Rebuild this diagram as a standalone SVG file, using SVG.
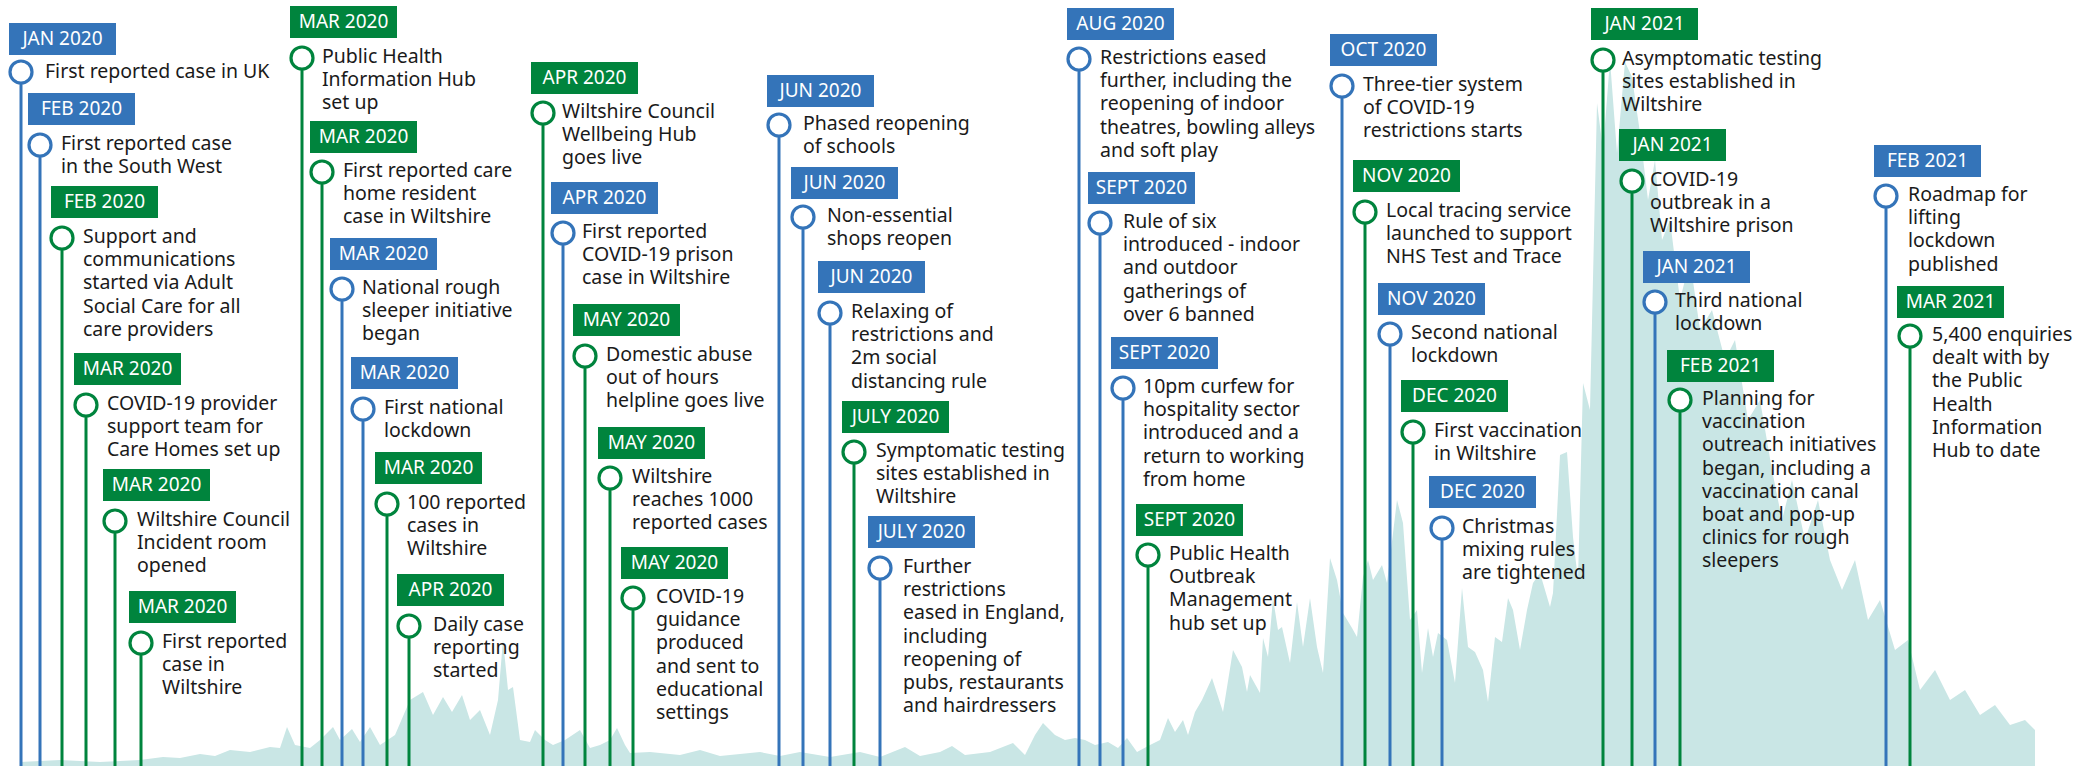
<svg xmlns="http://www.w3.org/2000/svg" width="2083" height="766" viewBox="0 0 2083 766">
<style>
.bg{fill:#ffffff}
.area{fill:#c9e6e5}
.stem{stroke-width:3;fill:none}
.stem.b{stroke:#3474b9}
.stem.g{stroke:#00843d}
.box.b{fill:#3474b9}
.box.g{fill:#00843d}
.dot{fill:#ffffff;stroke-width:3.2}
.dot.b{stroke:#3474b9}
.dot.g{stroke:#00843d}
.lbl{font-family:"Noto Sans","Open Sans","DejaVu Sans",sans-serif;font-size:19px;fill:#ffffff;text-anchor:middle}
.txt{font-family:"Noto Sans","Open Sans","DejaVu Sans",sans-serif;font-size:19.5px;fill:#1a1a1a}
</style>
<rect class="bg" x="0" y="0" width="2083" height="766"/>
<path class="area" d="M20,766 L20,762 L60,760 L100,762 L140,760 L163,757 L180,758 L200,754 L215,756 L230,750 L250,752 L270,747 L280,748 L287,727 L295,745 L310,748 L320,740 L333,727 L340,740 L352,729 L360,742 L370,727 L380,745 L395,735 L410,700 L423,692 L433,715 L443,697 L452,712 L462,695 L470,720 L480,710 L490,735 L498,700 L503,640 L508,690 L513,687 L520,740 L530,742 L535,730 L545,740 L553,745 L565,740 L580,730 L590,748 L600,745 L610,740 L617,728 L625,745 L630,753 L650,752 L680,755 L700,750 L720,756 L760,752 L780,756 L800,752 L830,757 L860,752 L880,757 L905,747 L920,756 L940,752 L952,746 L965,755 L990,752 L1013,743 L1025,755 L1035,735 L1043,723 L1055,735 L1065,740 L1075,738 L1085,740 L1095,745 L1108,742 L1118,748 L1127,738 L1137,752 L1150,745 L1160,740 L1168,718 L1175,732 L1183,720 L1188,735 L1195,712 L1202,700 L1212,678 L1223,712 L1233,650 L1242,667 L1247,692 L1250,675 L1260,693 L1263,638 L1268,657 L1273,598 L1278,630 L1282,627 L1290,663 L1297,602 L1303,647 L1310,598 L1317,647 L1323,673 L1330,558 L1337,580 L1343,613 L1352,628 L1357,637 L1363,577 L1368,560 L1373,580 L1382,565 L1387,583 L1397,500 L1403,523 L1410,620 L1417,610 L1422,673 L1428,628 L1433,657 L1438,633 L1447,640 L1455,683 L1462,588 L1468,647 L1475,652 L1483,670 L1488,702 L1495,637 L1502,642 L1508,598 L1513,610 L1520,650 L1527,610 L1533,583 L1540,573 L1550,607 L1553,593 L1560,455 L1567,452 L1573,537 L1578,580 L1583,383 L1590,410 L1597,103 L1603,150 L1610,60 L1617,153 L1625,62 L1632,77 L1640,133 L1648,200 L1655,160 L1662,240 L1670,220 L1680,300 L1690,260 L1700,330 L1712,310 L1725,360 L1735,340 L1748,420 L1760,400 L1772,470 L1782,520 L1792,480 L1805,540 L1818,500 L1830,560 L1842,590 L1855,560 L1868,620 L1880,600 L1895,650 L1908,640 L1920,690 L1935,670 L1950,700 L1965,690 L1980,715 L1995,705 L2010,725 L2025,720 L2035,730 L2035,766 Z"/>
<g id="connectors">
<line class="stem b" x1="21" y1="83" x2="21" y2="766"/>
<line class="stem b" x1="40" y1="156" x2="40" y2="766"/>
<line class="stem g" x1="62" y1="249" x2="62" y2="766"/>
<line class="stem g" x1="86" y1="416" x2="86" y2="766"/>
<line class="stem g" x1="115" y1="532" x2="115" y2="766"/>
<line class="stem g" x1="141" y1="654" x2="141" y2="766"/>
<line class="stem g" x1="302" y1="69" x2="302" y2="766"/>
<line class="stem g" x1="322" y1="183" x2="322" y2="766"/>
<line class="stem b" x1="342" y1="300" x2="342" y2="766"/>
<line class="stem b" x1="363" y1="420" x2="363" y2="766"/>
<line class="stem g" x1="387" y1="515" x2="387" y2="766"/>
<line class="stem g" x1="409" y1="637" x2="409" y2="766"/>
<line class="stem g" x1="543" y1="124" x2="543" y2="766"/>
<line class="stem b" x1="563" y1="244" x2="563" y2="766"/>
<line class="stem g" x1="585" y1="367" x2="585" y2="766"/>
<line class="stem g" x1="610" y1="489" x2="610" y2="766"/>
<line class="stem g" x1="633" y1="609" x2="633" y2="766"/>
<line class="stem b" x1="779" y1="136" x2="779" y2="766"/>
<line class="stem b" x1="803" y1="228" x2="803" y2="766"/>
<line class="stem b" x1="830" y1="324" x2="830" y2="766"/>
<line class="stem g" x1="854" y1="463" x2="854" y2="766"/>
<line class="stem b" x1="880" y1="579" x2="880" y2="766"/>
<line class="stem b" x1="1079" y1="70" x2="1079" y2="766"/>
<line class="stem b" x1="1100" y1="234" x2="1100" y2="766"/>
<line class="stem b" x1="1123" y1="399" x2="1123" y2="766"/>
<line class="stem g" x1="1148" y1="566" x2="1148" y2="766"/>
<line class="stem b" x1="1342" y1="97" x2="1342" y2="766"/>
<line class="stem g" x1="1365" y1="223" x2="1365" y2="766"/>
<line class="stem b" x1="1390" y1="345" x2="1390" y2="766"/>
<line class="stem g" x1="1413" y1="443" x2="1413" y2="766"/>
<line class="stem b" x1="1442" y1="539" x2="1442" y2="766"/>
<line class="stem g" x1="1603" y1="71" x2="1603" y2="766"/>
<line class="stem g" x1="1632" y1="192" x2="1632" y2="766"/>
<line class="stem b" x1="1655" y1="313" x2="1655" y2="766"/>
<line class="stem g" x1="1680" y1="411" x2="1680" y2="766"/>
<line class="stem b" x1="1886" y1="207" x2="1886" y2="766"/>
<line class="stem g" x1="1910" y1="347" x2="1910" y2="766"/>
</g>
<g id="n1"><rect class="box b" x="9" y="23" width="107" height="32"/><text class="lbl" x="62.5" y="45">JAN 2020</text><circle class="dot b" cx="21" cy="72" r="11"/><text class="txt" x="45" y="78">First reported case in UK</text></g>
<g id="n2"><rect class="box b" x="28" y="93" width="107" height="32"/><text class="lbl" x="81.5" y="115">FEB 2020</text><circle class="dot b" cx="40" cy="145" r="11"/><text class="txt" x="61" y="150"><tspan x="61">First reported case</tspan><tspan x="61" dy="23.2">in the South West</tspan></text></g>
<g id="n3"><rect class="box g" x="51" y="186" width="107" height="32"/><text class="lbl" x="104.5" y="208">FEB 2020</text><circle class="dot g" cx="62" cy="238" r="11"/><text class="txt" x="83" y="243"><tspan x="83">Support and</tspan><tspan x="83" dy="23.2">communications</tspan><tspan x="83" dy="23.2">started via Adult</tspan><tspan x="83" dy="23.2">Social Care for all</tspan><tspan x="83" dy="23.2">care providers</tspan></text></g>
<g id="n4"><rect class="box g" x="74" y="353" width="107" height="32"/><text class="lbl" x="127.5" y="375">MAR 2020</text><circle class="dot g" cx="86" cy="405" r="11"/><text class="txt" x="107" y="410"><tspan x="107">COVID-19 provider</tspan><tspan x="107" dy="23.2">support team for</tspan><tspan x="107" dy="23.2">Care Homes set up</tspan></text></g>
<g id="n5"><rect class="box g" x="103" y="469" width="107" height="32"/><text class="lbl" x="156.5" y="491">MAR 2020</text><circle class="dot g" cx="115" cy="521" r="11"/><text class="txt" x="137" y="526"><tspan x="137">Wiltshire Council</tspan><tspan x="137" dy="23.2">Incident room</tspan><tspan x="137" dy="23.2">opened</tspan></text></g>
<g id="n6"><rect class="box g" x="129" y="591" width="107" height="32"/><text class="lbl" x="182.5" y="613">MAR 2020</text><circle class="dot g" cx="141" cy="643" r="11"/><text class="txt" x="162" y="648"><tspan x="162">First reported</tspan><tspan x="162" dy="23.2">case in</tspan><tspan x="162" dy="23.2">Wiltshire</tspan></text></g>
<g id="n7"><rect class="box g" x="290" y="6" width="107" height="32"/><text class="lbl" x="343.5" y="28">MAR 2020</text><circle class="dot g" cx="302" cy="58" r="11"/><text class="txt" x="322" y="63"><tspan x="322">Public Health</tspan><tspan x="322" dy="23.2">Information Hub</tspan><tspan x="322" dy="23.2">set up</tspan></text></g>
<g id="n8"><rect class="box g" x="310" y="121" width="107" height="32"/><text class="lbl" x="363.5" y="143">MAR 2020</text><circle class="dot g" cx="322" cy="172" r="11"/><text class="txt" x="343" y="177"><tspan x="343">First reported care</tspan><tspan x="343" dy="23.2">home resident</tspan><tspan x="343" dy="23.2">case in Wiltshire</tspan></text></g>
<g id="n9"><rect class="box b" x="330" y="238" width="107" height="32"/><text class="lbl" x="383.5" y="260">MAR 2020</text><circle class="dot b" cx="342" cy="289" r="11"/><text class="txt" x="362" y="294"><tspan x="362">National rough</tspan><tspan x="362" dy="23.2">sleeper initiative</tspan><tspan x="362" dy="23.2">began</tspan></text></g>
<g id="n10"><rect class="box b" x="351" y="357" width="107" height="32"/><text class="lbl" x="404.5" y="379">MAR 2020</text><circle class="dot b" cx="363" cy="409" r="11"/><text class="txt" x="384" y="414"><tspan x="384">First national</tspan><tspan x="384" dy="23.2">lockdown</tspan></text></g>
<g id="n11"><rect class="box g" x="375" y="452" width="107" height="32"/><text class="lbl" x="428.5" y="474">MAR 2020</text><circle class="dot g" cx="387" cy="504" r="11"/><text class="txt" x="407" y="509"><tspan x="407">100 reported</tspan><tspan x="407" dy="23.2">cases in</tspan><tspan x="407" dy="23.2">Wiltshire</tspan></text></g>
<g id="n12"><rect class="box g" x="397" y="574" width="107" height="32"/><text class="lbl" x="450.5" y="596">APR 2020</text><circle class="dot g" cx="409" cy="626" r="11"/><text class="txt" x="433" y="631"><tspan x="433">Daily case</tspan><tspan x="433" dy="23.2">reporting</tspan><tspan x="433" dy="23.2">started</tspan></text></g>
<g id="n13"><rect class="box g" x="531" y="62" width="107" height="32"/><text class="lbl" x="584.5" y="84">APR 2020</text><circle class="dot g" cx="543" cy="113" r="11"/><text class="txt" x="562" y="118"><tspan x="562">Wiltshire Council</tspan><tspan x="562" dy="23.2">Wellbeing Hub</tspan><tspan x="562" dy="23.2">goes live</tspan></text></g>
<g id="n14"><rect class="box b" x="551" y="182" width="107" height="32"/><text class="lbl" x="604.5" y="204">APR 2020</text><circle class="dot b" cx="563" cy="233" r="11"/><text class="txt" x="582" y="238"><tspan x="582">First reported</tspan><tspan x="582" dy="23.2">COVID-19 prison</tspan><tspan x="582" dy="23.2">case in Wiltshire</tspan></text></g>
<g id="n15"><rect class="box g" x="573" y="304" width="107" height="32"/><text class="lbl" x="626.5" y="326">MAY 2020</text><circle class="dot g" cx="585" cy="356" r="11"/><text class="txt" x="606" y="361"><tspan x="606">Domestic abuse</tspan><tspan x="606" dy="23.2">out of hours</tspan><tspan x="606" dy="23.2">helpline goes live</tspan></text></g>
<g id="n16"><rect class="box g" x="598" y="427" width="107" height="32"/><text class="lbl" x="651.5" y="449">MAY 2020</text><circle class="dot g" cx="610" cy="478" r="11"/><text class="txt" x="632" y="483"><tspan x="632">Wiltshire</tspan><tspan x="632" dy="23.2">reaches 1000</tspan><tspan x="632" dy="23.2">reported cases</tspan></text></g>
<g id="n17"><rect class="box g" x="621" y="547" width="107" height="32"/><text class="lbl" x="674.5" y="569">MAY 2020</text><circle class="dot g" cx="633" cy="598" r="11"/><text class="txt" x="656" y="603"><tspan x="656">COVID-19</tspan><tspan x="656" dy="23.2">guidance</tspan><tspan x="656" dy="23.2">produced</tspan><tspan x="656" dy="23.2">and sent to</tspan><tspan x="656" dy="23.2">educational</tspan><tspan x="656" dy="23.2">settings</tspan></text></g>
<g id="n18"><rect class="box b" x="767" y="75" width="107" height="32"/><text class="lbl" x="820.5" y="97">JUN 2020</text><circle class="dot b" cx="779" cy="125" r="11"/><text class="txt" x="803" y="130"><tspan x="803">Phased reopening</tspan><tspan x="803" dy="23.2">of schools</tspan></text></g>
<g id="n19"><rect class="box b" x="791" y="167" width="107" height="32"/><text class="lbl" x="844.5" y="189">JUN 2020</text><circle class="dot b" cx="803" cy="217" r="11"/><text class="txt" x="827" y="222"><tspan x="827">Non-essential</tspan><tspan x="827" dy="23.2">shops reopen</tspan></text></g>
<g id="n20"><rect class="box b" x="818" y="261" width="107" height="32"/><text class="lbl" x="871.5" y="283">JUN 2020</text><circle class="dot b" cx="830" cy="313" r="11"/><text class="txt" x="851" y="318"><tspan x="851">Relaxing of</tspan><tspan x="851" dy="23.2">restrictions and</tspan><tspan x="851" dy="23.2">2m social</tspan><tspan x="851" dy="23.2">distancing rule</tspan></text></g>
<g id="n21"><rect class="box g" x="842" y="401" width="107" height="32"/><text class="lbl" x="895.5" y="423">JULY 2020</text><circle class="dot g" cx="854" cy="452" r="11"/><text class="txt" x="876" y="457"><tspan x="876">Symptomatic testing</tspan><tspan x="876" dy="23.2">sites established in</tspan><tspan x="876" dy="23.2">Wiltshire</tspan></text></g>
<g id="n22"><rect class="box b" x="868" y="516" width="107" height="32"/><text class="lbl" x="921.5" y="538">JULY 2020</text><circle class="dot b" cx="880" cy="568" r="11"/><text class="txt" x="903" y="573"><tspan x="903">Further</tspan><tspan x="903" dy="23.2">restrictions</tspan><tspan x="903" dy="23.2">eased in England,</tspan><tspan x="903" dy="23.2">including</tspan><tspan x="903" dy="23.2">reopening of</tspan><tspan x="903" dy="23.2">pubs, restaurants</tspan><tspan x="903" dy="23.2">and hairdressers</tspan></text></g>
<g id="n23"><rect class="box b" x="1067" y="8" width="107" height="32"/><text class="lbl" x="1120.5" y="30">AUG 2020</text><circle class="dot b" cx="1079" cy="59" r="11"/><text class="txt" x="1100" y="64"><tspan x="1100">Restrictions eased</tspan><tspan x="1100" dy="23.2">further, including the</tspan><tspan x="1100" dy="23.2">reopening of indoor</tspan><tspan x="1100" dy="23.2">theatres, bowling alleys</tspan><tspan x="1100" dy="23.2">and soft play</tspan></text></g>
<g id="n24"><rect class="box b" x="1088" y="172" width="107" height="32"/><text class="lbl" x="1141.5" y="194">SEPT 2020</text><circle class="dot b" cx="1100" cy="223" r="11"/><text class="txt" x="1123" y="228"><tspan x="1123">Rule of six</tspan><tspan x="1123" dy="23.2">introduced - indoor</tspan><tspan x="1123" dy="23.2">and outdoor</tspan><tspan x="1123" dy="23.2">gatherings of</tspan><tspan x="1123" dy="23.2">over 6 banned</tspan></text></g>
<g id="n25"><rect class="box b" x="1111" y="337" width="107" height="32"/><text class="lbl" x="1164.5" y="359">SEPT 2020</text><circle class="dot b" cx="1123" cy="388" r="11"/><text class="txt" x="1143" y="393"><tspan x="1143">10pm curfew for</tspan><tspan x="1143" dy="23.2">hospitality sector</tspan><tspan x="1143" dy="23.2">introduced and a</tspan><tspan x="1143" dy="23.2">return to working</tspan><tspan x="1143" dy="23.2">from home</tspan></text></g>
<g id="n26"><rect class="box g" x="1136" y="504" width="107" height="32"/><text class="lbl" x="1189.5" y="526">SEPT 2020</text><circle class="dot g" cx="1148" cy="555" r="11"/><text class="txt" x="1169" y="560"><tspan x="1169">Public Health</tspan><tspan x="1169" dy="23.2">Outbreak</tspan><tspan x="1169" dy="23.2">Management</tspan><tspan x="1169" dy="23.2">hub set up</tspan></text></g>
<g id="n27"><rect class="box b" x="1330" y="34" width="107" height="32"/><text class="lbl" x="1383.5" y="56">OCT 2020</text><circle class="dot b" cx="1342" cy="86" r="11"/><text class="txt" x="1363" y="91"><tspan x="1363">Three-tier system</tspan><tspan x="1363" dy="23.2">of COVID-19</tspan><tspan x="1363" dy="23.2">restrictions starts</tspan></text></g>
<g id="n28"><rect class="box g" x="1353" y="160" width="107" height="32"/><text class="lbl" x="1406.5" y="182">NOV 2020</text><circle class="dot g" cx="1365" cy="212" r="11"/><text class="txt" x="1386" y="217"><tspan x="1386">Local tracing service</tspan><tspan x="1386" dy="23.2">launched to support</tspan><tspan x="1386" dy="23.2">NHS Test and Trace</tspan></text></g>
<g id="n29"><rect class="box b" x="1378" y="283" width="107" height="32"/><text class="lbl" x="1431.5" y="305">NOV 2020</text><circle class="dot b" cx="1390" cy="334" r="11"/><text class="txt" x="1411" y="339"><tspan x="1411">Second national</tspan><tspan x="1411" dy="23.2">lockdown</tspan></text></g>
<g id="n30"><rect class="box g" x="1401" y="380" width="107" height="32"/><text class="lbl" x="1454.5" y="402">DEC 2020</text><circle class="dot g" cx="1413" cy="432" r="11"/><text class="txt" x="1434" y="437"><tspan x="1434">First vaccination</tspan><tspan x="1434" dy="23.2">in Wiltshire</tspan></text></g>
<g id="n31"><rect class="box b" x="1429" y="476" width="107" height="32"/><text class="lbl" x="1482.5" y="498">DEC 2020</text><circle class="dot b" cx="1442" cy="528" r="11"/><text class="txt" x="1462" y="533"><tspan x="1462">Christmas</tspan><tspan x="1462" dy="23.2">mixing rules</tspan><tspan x="1462" dy="23.2">are tightened</tspan></text></g>
<g id="n32"><rect class="box g" x="1591" y="8" width="107" height="32"/><text class="lbl" x="1644.5" y="30">JAN 2021</text><circle class="dot g" cx="1603" cy="60" r="11"/><text class="txt" x="1622" y="65"><tspan x="1622">Asymptomatic testing</tspan><tspan x="1622" dy="23.2">sites established in</tspan><tspan x="1622" dy="23.2">Wiltshire</tspan></text></g>
<g id="n33"><rect class="box g" x="1619" y="129" width="107" height="32"/><text class="lbl" x="1672.5" y="151">JAN 2021</text><circle class="dot g" cx="1632" cy="181" r="11"/><text class="txt" x="1650" y="186"><tspan x="1650">COVID-19</tspan><tspan x="1650" dy="23.2">outbreak in a</tspan><tspan x="1650" dy="23.2">Wiltshire prison</tspan></text></g>
<g id="n34"><rect class="box b" x="1643" y="251" width="107" height="32"/><text class="lbl" x="1696.5" y="273">JAN 2021</text><circle class="dot b" cx="1655" cy="302" r="11"/><text class="txt" x="1675" y="307"><tspan x="1675">Third national</tspan><tspan x="1675" dy="23.2">lockdown</tspan></text></g>
<g id="n35"><rect class="box g" x="1667" y="350" width="107" height="32"/><text class="lbl" x="1720.5" y="372">FEB 2021</text><circle class="dot g" cx="1680" cy="400" r="11"/><text class="txt" x="1702" y="405"><tspan x="1702">Planning for</tspan><tspan x="1702" dy="23.2">vaccination</tspan><tspan x="1702" dy="23.2">outreach initiatives</tspan><tspan x="1702" dy="23.2">began, including a</tspan><tspan x="1702" dy="23.2">vaccination canal</tspan><tspan x="1702" dy="23.2">boat and pop-up</tspan><tspan x="1702" dy="23.2">clinics for rough</tspan><tspan x="1702" dy="23.2">sleepers</tspan></text></g>
<g id="n36"><rect class="box b" x="1874" y="145" width="107" height="32"/><text class="lbl" x="1927.5" y="167">FEB 2021</text><circle class="dot b" cx="1886" cy="196" r="11"/><text class="txt" x="1908" y="201"><tspan x="1908">Roadmap for</tspan><tspan x="1908" dy="23.2">lifting</tspan><tspan x="1908" dy="23.2">lockdown</tspan><tspan x="1908" dy="23.2">published</tspan></text></g>
<g id="n37"><rect class="box g" x="1897" y="286" width="107" height="32"/><text class="lbl" x="1950.5" y="308">MAR 2021</text><circle class="dot g" cx="1910" cy="336" r="11"/><text class="txt" x="1932" y="341"><tspan x="1932">5,400 enquiries</tspan><tspan x="1932" dy="23.2">dealt with by</tspan><tspan x="1932" dy="23.2">the Public</tspan><tspan x="1932" dy="23.2">Health</tspan><tspan x="1932" dy="23.2">Information</tspan><tspan x="1932" dy="23.2">Hub to date</tspan></text></g>
</svg>
